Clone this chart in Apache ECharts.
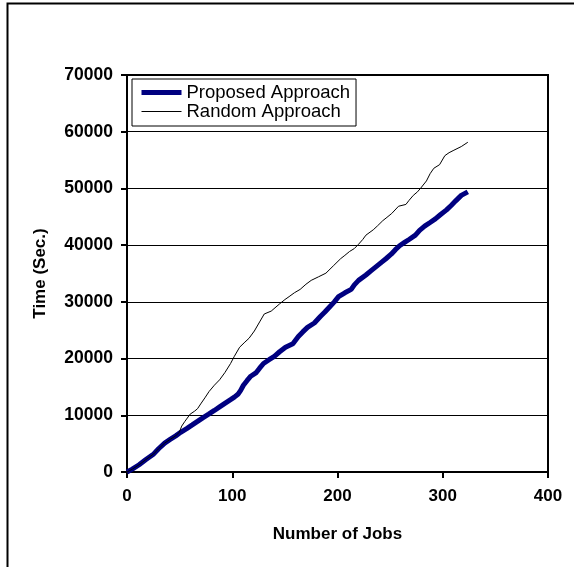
<!DOCTYPE html>
<html>
<head>
<meta charset="utf-8">
<script src="https://cdn.jsdelivr.net/npm/echarts@6/dist/echarts.min.js"></script>
<style>html,body{margin:0;padding:0;background:#fff}#c{width:574px;height:567px}</style>
</head>
<body>
<div id="c"></div>
<script>
const xTicks = [0, 100, 200, 300, 400];
const yTicks = [0, 10000, 20000, 30000, 40000, 50000, 60000, 70000];

const proposedJobs = [0, 5, 11.5, 18, 25.4, 30, 35.8, 41, 46.3, 51, 56.7, 62, 67, 72, 77.6, 83, 88, 93, 98.4, 102, 105.4, 108, 110.6, 114, 117.6, 122.8, 126, 129.7, 135, 140, 145, 150.6, 157.6, 162.8, 167, 171.5, 178, 183.7, 188, 192, 197, 201, 207, 213, 216, 220, 227, 232, 237.6, 242, 246, 251, 255, 259, 263.7, 268, 274, 278, 282.8, 288, 293, 298, 303.6, 308, 312.3, 317.6, 323.8];
const proposedTime = [0, 500, 1275, 2200, 3190, 4100, 5100, 5750, 6375, 7000, 7650, 8300, 8925, 9550, 10200, 10850, 11475, 12100, 12750, 13200, 13700, 14400, 15300, 16100, 16890, 17530, 18300, 19130, 19800, 20400, 21200, 22000, 22630, 23900, 24700, 25500, 26270, 27410, 28200, 29000, 30000, 30920, 31600, 32200, 33000, 33790, 34740, 35500, 36340, 37000, 37600, 38400, 39200, 39900, 40480, 41000, 41760, 42600, 43350, 44000, 44630, 45400, 46220, 47000, 47810, 48770, 49400];

const randomJobs = [0, 5, 11.5, 18, 25.4, 30, 35.8, 41, 46.3, 49.7, 52, 55, 60, 64, 67, 70, 74, 78, 83, 88, 93, 98.4, 102, 107, 112, 116, 121, 126, 130.4, 137, 145, 150, 154, 159, 164.5, 170, 175, 182, 189, 196, 203, 207, 211.5, 216, 220, 224, 227, 234, 238, 243, 247, 251.5, 258, 265, 268, 272, 276, 279, 284.5, 288, 291.5, 297, 302, 306, 310.6, 317.6, 323.8];
const randomTime = [0, 500, 1275, 2200, 3190, 4100, 5100, 5750, 6375, 7013, 8100, 8925, 10200, 10700, 11160, 12000, 13070, 14200, 15300, 16260, 17530, 19130, 20400, 22000, 22900, 23590, 24860, 26460, 27860, 28370, 29645, 30400, 30920, 31600, 32195, 33100, 33790, 34420, 35060, 36340, 37615, 38200, 38890, 39400, 40160, 41000, 41760, 42710, 43400, 44310, 44900, 45580, 46860, 47180, 47900, 48770, 49400, 50040, 51320, 52600, 53550, 54190, 55780, 56300, 56740, 57380, 58140];

const seriesNames = ['Proposed Approach', 'Random Approach'];

const pairs = (xs, ys) => xs.map((x, i) => [x, ys[i]]);
const FONT = 'Arial, "Liberation Sans", sans-serif';

const chart = echarts.init(document.getElementById('c'), null, {renderer: 'canvas'});
chart.setOption({
  animation: false,
  backgroundColor: '#fff',
  graphic: [{
    type: 'rect',
    shape: {x: 7.5, y: 3.5, width: 700, height: 700},
    style: {fill: 'none', stroke: '#000', lineWidth: 2},
    silent: true
  }],
  grid: {left: 127, top: 75, right: 26, bottom: 95, show: true, borderColor: '#000', borderWidth: 2, backgroundColor: 'transparent'},
  legend: {
    data: [
      {name: seriesNames[0], lineStyle: {width: 5, color: '#000080'}},
      {name: seriesNames[1], lineStyle: {width: 1, color: '#000'}}
    ],
    orient: 'vertical',
    left: 132, top: 79,
    width: 218,
    padding: [4, 6, 5, 7],
    itemGap: 0,
    itemWidth: 40,
    itemHeight: 14,
    itemTextGap: 3,
    backgroundColor: '#fff',
    borderColor: '#000',
    borderWidth: 1,
    itemStyle: {color: 'rgba(0,0,0,0)', borderWidth: 0, opacity: 0},
    textStyle: {fontFamily: FONT, fontSize: 18.5, color: '#000', lineHeight: 19}
  },
  xAxis: {
    type: 'value', min: xTicks[0], max: xTicks[xTicks.length - 1], interval: 100,
    name: 'Number of Jobs', nameLocation: 'middle', nameGap: 54,
    nameTextStyle: {fontFamily: FONT, fontSize: 17, fontWeight: 'bold', color: '#000'},
    axisLine: {show: true, onZero: false, lineStyle: {color: '#000', width: 2}},
    axisTick: {show: true, inside: false, length: 6, lineStyle: {color: '#000', width: 2}},
    axisLabel: {margin: 16, fontFamily: FONT, fontSize: 17, fontWeight: 'bold', color: '#000', formatter: v => String(v)},
    splitLine: {show: false}
  },
  yAxis: {
    type: 'value', min: yTicks[0], max: yTicks[yTicks.length - 1], interval: 10000,
    name: 'Time (Sec.)', nameLocation: 'middle', nameGap: 78,
    nameTextStyle: {fontFamily: FONT, fontSize: 17, fontWeight: 'bold', color: '#000'},
    axisLine: {show: true, lineStyle: {color: '#000', width: 2}},
    axisTick: {show: true, inside: false, length: 6, lineStyle: {color: '#000', width: 2}},
    axisLabel: {margin: 14, fontFamily: FONT, fontSize: 17.5, fontWeight: 'bold', color: '#000', formatter: v => String(v)},
    splitLine: {show: true, lineStyle: {color: '#000', width: 1}}
  },
  series: [
    {
      name: seriesNames[0], type: 'line', data: pairs(proposedJobs, proposedTime),
      symbol: 'none', showSymbol: false, smooth: false,
      lineStyle: {color: '#000080', width: 5},
      itemStyle: {color: '#000080'}
    },
    {
      name: seriesNames[1], type: 'line', data: pairs(randomJobs, randomTime),
      symbol: 'none', showSymbol: false, smooth: false,
      lineStyle: {color: '#000', width: 1},
      itemStyle: {color: '#000'}
    }
  ]
});
</script>
</body>
</html>
